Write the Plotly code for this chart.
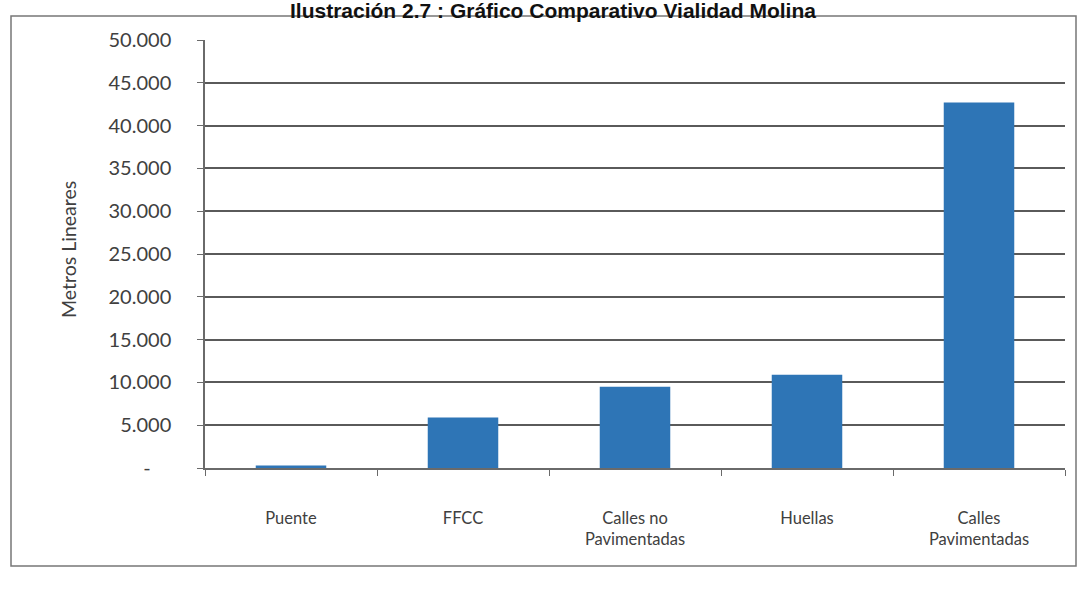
import plotly.graph_objects as go

categories = ["Puente", "FFCC", "Calles no<br>Pavimentadas", "Huellas", "Calles<br>Pavimentadas"]
values = [300, 5900, 9500, 10900, 42700]
tick_vals = [0, 5000, 10000, 15000, 20000, 25000, 30000, 35000, 40000, 45000, 50000]
tick_text = ["-\u00a0\u00a0\u00a0\u00a0", "5.000", "10.000", "15.000", "20.000", "25.000", "30.000", "35.000", "40.000", "45.000", "50.000"]
title_text = "Ilustración 2.7 : Gráfico Comparativo Vialidad Molina"
y_title = "Metros Lineares"

W, H = 1082, 592
L, R, T, B = 205, 17, 40, 124
pw, ph = W - L - R, H - T - B

def px_x(x):
    return (x - L) / pw

def px_y(y):
    return (H - B - y) / ph

fig = go.Figure(go.Bar(
    x=categories, y=values,
    marker=dict(color="#2E75B6", line=dict(width=0)),
    width=0.41,
))

font = "Lato, 'Open Sans', sans-serif"
fig.update_layout(
    width=W, height=H,
    margin=dict(l=L, r=R, t=T, b=B),
    paper_bgcolor="white", plot_bgcolor="white",
    showlegend=False,
    font=dict(family=font, color="#404040"),
    xaxis=dict(
        showline=True, linecolor="#6a6a6a", linewidth=1.5,
        ticks="outside", tickson="boundaries", ticklen=6, tickcolor="#6a6a6a",
        tickfont=dict(size=16.5, color="#404040"),
        ticklabelstandoff=34,
        showgrid=False,
    ),
    yaxis=dict(
        range=[0, 50000],
        tickvals=tick_vals, ticktext=tick_text,
        showline=True, linecolor="#6a6a6a", linewidth=1.5,
        ticks="outside", ticklen=6, tickcolor="#6a6a6a",
        tickfont=dict(size=20, color="#404040"),
        ticklabelstandoff=22,
        showgrid=True, gridcolor="#5a5a5a", gridwidth=1.5,
        zeroline=False,
    ),
    shapes=[dict(
        type="rect", xref="paper", yref="paper",
        x0=px_x(11), x1=px_x(1076), y0=px_y(566), y1=px_y(16),
        line=dict(color="#777777", width=1.5), fillcolor="rgba(0,0,0,0)", layer="below",
    )],
    annotations=[
        dict(
            text="<b>" + title_text + "</b>", xref="paper", yref="paper",
            x=px_x(553), y=px_y(10), xanchor="center", yanchor="middle",
            showarrow=False, font=dict(family="Arial, 'Liberation Sans', sans-serif", size=21, color="#111111"),
        ),
        dict(
            text=y_title, xref="paper", yref="paper",
            x=px_x(68), y=px_y(250), xanchor="center", yanchor="middle", textangle=-90,
            showarrow=False, font=dict(size=19.5, color="#404040"),
        ),
    ],
)

fig.write_html("out.html")
